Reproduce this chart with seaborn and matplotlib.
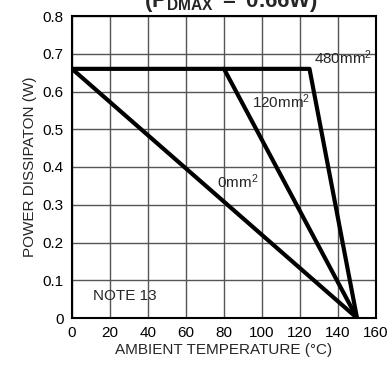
import matplotlib
matplotlib.use("Agg")
import matplotlib.pyplot as plt
import seaborn as sns
import pandas as pd

# Data
temp_480 = [0, 125, 150]
pwr_480 = [0.66, 0.66, 0.0]
temp_120 = [80, 150]
pwr_120 = [0.66, 0.0]
temp_0 = [0, 150]
pwr_0 = [0.66, 0.0]
x_ticks = [0, 20, 40, 60, 80, 100, 120, 140, 160]
y_ticks = [0, 0.1, 0.2, 0.3, 0.4, 0.5, 0.6, 0.7, 0.8]
y_labels = ["0", "0.1", "0.2", "0.3", "0.4", "0.5", "0.6", "0.7", "0.8"]

sns.set_style("white")
plt.rcParams['font.family'] = ['Liberation Sans', 'DejaVu Sans']
plt.rcParams['mathtext.fontset'] = 'custom'
plt.rcParams['mathtext.rm'] = 'Liberation Sans'
plt.rcParams['mathtext.it'] = 'Liberation Sans'
plt.rcParams['mathtext.bf'] = 'Liberation Sans:bold'
plt.rcParams['mathtext.default'] = 'regular'

df = pd.concat([
    pd.DataFrame({"T": temp_480, "P": pwr_480, "area": "480"}),
    pd.DataFrame({"T": temp_120, "P": pwr_120, "area": "120"}),
    pd.DataFrame({"T": temp_0, "P": pwr_0, "area": "0"}),
], ignore_index=True)

fig = plt.figure(figsize=(3.88, 3.68), dpi=100)
ax = fig.add_axes([72/388, 1 - 318/368, (376-72)/388, (318-16)/368])

sns.lineplot(data=df, x="T", y="P", units="area", estimator=None, sort=False,
             color="black", linewidth=3, ax=ax, zorder=3)

ax.set_xlim(0, 160)
ax.set_ylim(0, 0.8)
ax.set_xticks(x_ticks)
ax.set_yticks(y_ticks)
ax.set_yticklabels(y_labels)
ax.grid(True, color="#555555", linewidth=1.0)
ax.tick_params(length=0, labelsize=11, pad=6, colors="black")
for s in ax.spines.values():
    s.set_color("black")
    s.set_linewidth(1.5)
    s.set_visible(True)

ax.set_xlabel("AMBIENT TEMPERATURE (°C)", fontsize=11, labelpad=2)
ax.set_ylabel("POWER DISSIPATON (W)", fontsize=11, labelpad=4)

ax.text(127.5, 0.672, "480mm$^2$", fontsize=11, ha="left", va="baseline", zorder=4)
ax.text(94.5, 0.555, "120mm$^2$", fontsize=11, ha="left", va="baseline", zorder=4)
ax.text(76.5, 0.344, "0mm$^2$", fontsize=11, ha="left", va="baseline", zorder=4)
ax.text(11, 0.047, "NOTE 13", fontsize=11, ha="left", va="baseline", zorder=4)

fig.text(231/388, 1 - 7/368, r"$\mathbf{(P_{DMAX}\ =\ 0.66W)}$", fontsize=16,
         ha="center", va="baseline")

fig.savefig("out.png", dpi=100)
